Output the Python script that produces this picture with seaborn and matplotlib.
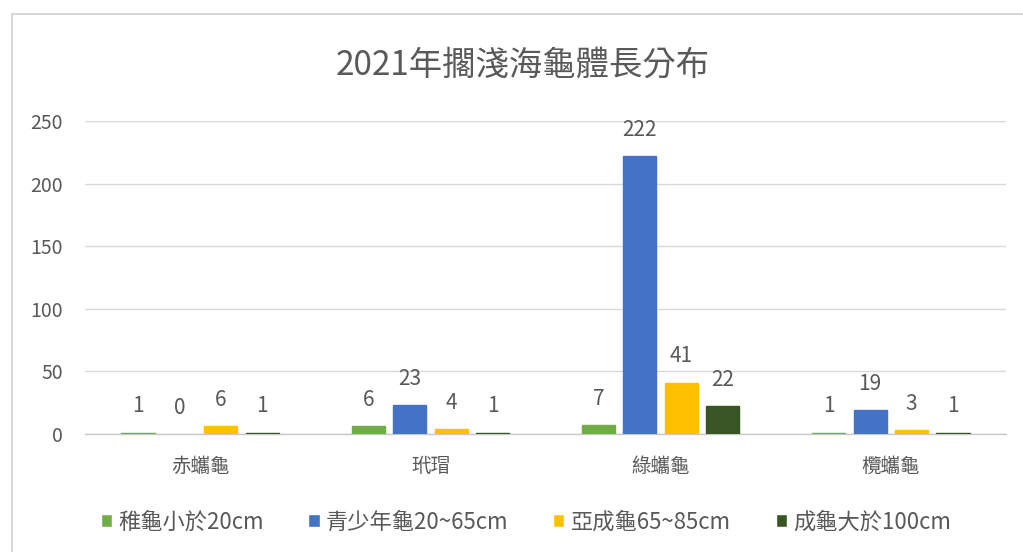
import matplotlib
matplotlib.use("Agg")
import matplotlib.pyplot as plt
import seaborn as sns
import pandas as pd
from matplotlib.patches import Rectangle

categories = ["赤蠵龜", "玳瑁", "綠蠵龜", "欖蠵龜"]
series_names = ["稚龜小於20cm", "青少年龜20~65cm", "亞成龜65~85cm", "成龜大於100cm"]
hatchling = [1, 6, 7, 1]
juvenile = [0, 23, 222, 19]
subadult = [6, 4, 41, 3]
adult = [1, 1, 22, 1]
yticks = [0, 50, 100, 150, 200, 250]
colors = ["#70AD47", "#4472C4", "#FFC000", "#375623"]

rows = []
for name, vals in zip(series_names, [hatchling, juvenile, subadult, adult]):
    for c, v in zip(categories, vals):
        rows.append({"category": c, "series": name, "value": v})
df = pd.DataFrame(rows)

sns.set_theme(style="white")
plt.rcParams["font.family"] = ["Noto Sans CJK TC", "DejaVu Sans"]
text_color = "#595959"

fig = plt.figure(figsize=(10.23, 5.52), dpi=100)
fig.patches.append(Rectangle((12 / 1023, -0.1), 1.2, 1 - 14 / 552 + 0.1,
                             transform=fig.transFigure, fill=False,
                             edgecolor="#D0D0D0", linewidth=1.2))
ax = fig.add_axes([85 / 1023, 1 - 434 / 552, 921 / 1023, 313 / 552])

sns.barplot(data=df, x="category", y="value", hue="series", order=categories,
            hue_order=series_names, palette=colors, width=0.72, gap=0.2,
            saturation=1, ax=ax, legend=True)

for cont in ax.containers:
    for bar in cont:
        bar.set_zorder(3)
        if bar.get_height() > 0:
            bar.set_edgecolor(bar.get_facecolor())
            bar.set_linewidth(1.0)
    ax.bar_label(cont, padding=11, fontsize=15, color=text_color)

ax.set_ylim(0, 250)
ax.set_yticks(yticks)
ax.set_xlim(-0.5, 3.5)
ax.grid(axis="y", color="#D9D9D9", linewidth=1, zorder=0)
ax.set_axisbelow(True)
for s in ["top", "right", "left"]:
    ax.spines[s].set_visible(False)
ax.spines["bottom"].set_color("#C8C8C8")
ax.spines["bottom"].set_linewidth(1)
ax.spines["bottom"].set_zorder(1)
ax.tick_params(axis="y", length=0, labelsize=14, labelcolor=text_color, pad=16)
ax.tick_params(axis="x", length=0, labelsize=14, labelcolor=text_color, pad=16)
ax.set_xlabel("")
ax.set_ylabel("")

handles, labels = ax.get_legend_handles_labels()
ax.get_legend().remove()
fig.legend(handles, labels, loc="center", bbox_to_anchor=(526 / 1023, 1 - 522 / 552),
           ncol=4, frameon=False, fontsize=16, labelcolor=text_color,
           handlelength=0.5, handleheight=0.5, handletextpad=0.3, columnspacing=2.0)

fig.text(523 / 1023, 1 - 65 / 552, "2021年擱淺海龜體長分布", ha="center", va="center",
         fontsize=24, color=text_color)

fig.savefig("out.png", dpi=100)
